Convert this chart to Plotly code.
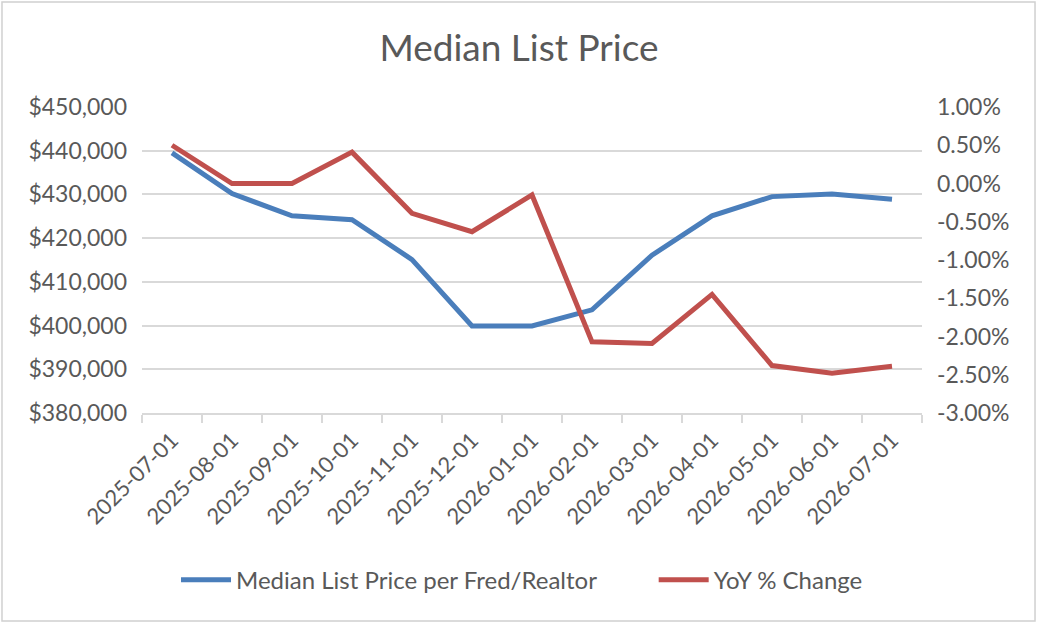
"""
    Median List Price vs YoY % Change
        Two y axes: price (left), percent change (right)
"""
import plotly.graph_objects as go

# Data
months = ["2025-07-01", "2025-08-01", "2025-09-01", "2025-10-01", "2025-11-01",
          "2025-12-01", "2026-01-01", "2026-02-01", "2026-03-01", "2026-04-01",
          "2026-05-01", "2026-06-01", "2026-07-01"]
median_price = [439500, 430200, 425100, 424200, 415100, 399900, 399900,
                403600, 416100, 425100, 429500, 430100, 428900]
yoy_change = [0.50, 0.00, 0.00, 0.41, -0.39, -0.63, -0.15,
              -2.07, -2.09, -1.45, -2.38, -2.48, -2.39]

# Right axis ticks
pct_ticks = [1.0, 0.5, 0.0, -0.5, -1.0, -1.5, -2.0, -2.5, -3.0]
pct_labels = ["1.00%", "0.50%", "0.00%", "-0.50%", "-1.00%",
              "-1.50%", "-2.00%", "-2.50%", "-3.00%"]

FONT = "Lato"
GREY = "#595959"
GRID = "#D9D9D9"

fig = go.Figure()
fig.add_trace(go.Scatter(x=months, y=median_price, mode="lines",
                         name="Median List Price per Fred/Realtor",
                         line=dict(color="#4A7EBB", width=5),
                         legend="legend"))
fig.add_trace(go.Scatter(x=months, y=yoy_change, mode="lines",
                         name="YoY % Change", yaxis="y2",
                         line=dict(color="#C0504D", width=5),
                         legend="legend2"))

# one legend per series so the gap between them matches
leg_style = dict(orientation="h", xanchor="left", y=-0.546,
                 yanchor="middle", font=dict(size=24), itemwidth=50)

fig.update_layout(
    width=1038, height=624,
    margin=dict(l=142, r=116, t=107, b=211, autoexpand=False),
    paper_bgcolor="white", plot_bgcolor="white",
    font=dict(family=FONT, color=GREY, size=20),
    title=dict(text="Median List Price", x=0.5, xanchor="center",
               y=0.923, yanchor="middle",
               font=dict(size=37, color=GREY, family=FONT)),
    xaxis=dict(type="category", range=[-0.5, 12.5], tickangle=-45,
               tickson="boundaries", ticks="outside", ticklen=8,
               tickcolor=GRID, tickwidth=1.5, ticklabelstandoff=4,
               showline=True, linecolor=GRID, linewidth=1.5,
               showgrid=False, tickfont=dict(size=22)),
    yaxis=dict(range=[380000, 450000], dtick=10000, tickprefix="$",
               tickformat=",", showgrid=True, gridcolor=GRID, gridwidth=1.5,
               zeroline=False, ticks="", ticklabelstandoff=14,
               tickfont=dict(size=23)),
    yaxis2=dict(range=[-3, 1], overlaying="y", side="right",
                tickvals=pct_ticks, ticktext=pct_labels,
                showgrid=False, zeroline=False, ticks="",
                ticklabelstandoff=14, tickfont=dict(size=23)),
    legend=dict(leg_style, x=0.0436),
    legend2=dict(leg_style, x=0.656),
    showlegend=True,
)

# chart frame
fig.add_shape(type="rect", xref="paper", yref="paper",
              x0=-0.1795, x1=1.1449, y0=-0.68, y1=1.343,
              line=dict(color="#D0D0D0", width=1.5))

fig.write_html("out.html", config={"displayModeBar": False},
               post_script="document.body.style.margin='0';")
